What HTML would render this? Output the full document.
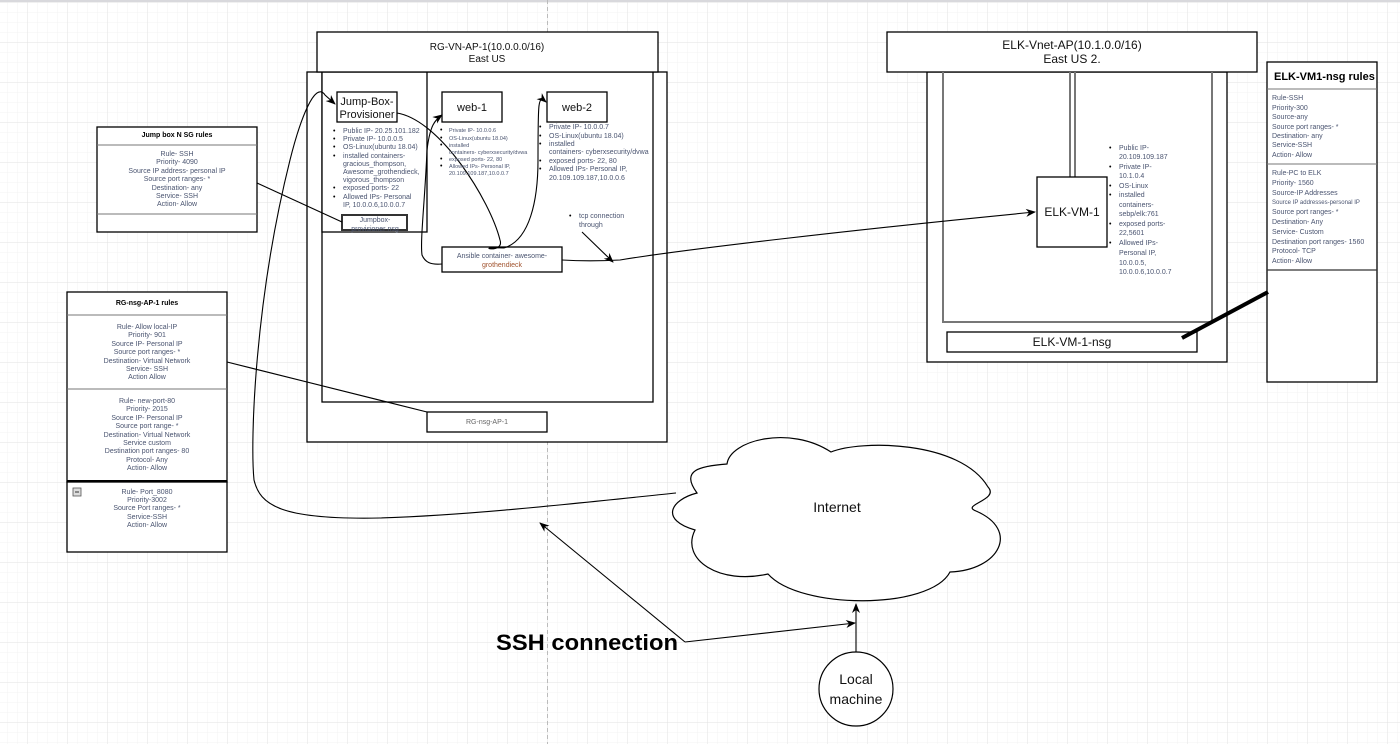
<!DOCTYPE html>
<html><head><meta charset="utf-8"><style>
html,body{margin:0;padding:0;background:#fff}
svg{display:block}
text{font-family:"Liberation Sans",Arial,sans-serif}
</style></head><body>
<svg width="1400" height="744" viewBox="0 0 1400 744" xmlns="http://www.w3.org/2000/svg">
<defs>
<pattern id="minor" x="7" y="2" width="10" height="10" patternUnits="userSpaceOnUse"><path d="M0 0H10M0 0V10" stroke="#f3f3f3" stroke-width="1" fill="none"/></pattern>
<pattern id="major" x="27" y="2" width="40" height="40" patternUnits="userSpaceOnUse"><path d="M0 0H40M0 0V40" stroke="#e2e2e2" stroke-width="1" fill="none"/></pattern>
<marker id="ar" markerWidth="10" markerHeight="10" refX="9" refY="5" orient="auto" markerUnits="userSpaceOnUse"><path d="M0 1L10 5L0 9L3 5Z" fill="#000"/></marker>
</defs>
<rect width="1400" height="744" fill="#fff"/>
<rect width="1400" height="744" fill="url(#minor)"/>
<rect width="1400" height="744" fill="url(#major)"/>
<rect width="1400" height="2" fill="#d8d8dc"/>
<line x1="547.5" y1="0" x2="547.5" y2="744" stroke="#bbb" stroke-dasharray="4 3"/>

<g fill="#fff" stroke="#000" stroke-width="1.3">
<rect x="307" y="72" width="360" height="370"/>
<rect x="322" y="72" width="331" height="330"/>
<rect x="322" y="72" width="105" height="160"/>
<rect x="317" y="32" width="341" height="40"/>
<rect x="337" y="92" width="60" height="30"/>
<rect x="442" y="92" width="60" height="30"/>
<rect x="547" y="92" width="60" height="30"/>
<rect x="442" y="247" width="120" height="25"/>
<rect x="427" y="412" width="120" height="20"/>
<rect x="97" y="127" width="160" height="105"/>
<rect x="67" y="292" width="160" height="190"/>
<rect x="67" y="482" width="160" height="70"/>
<rect x="927" y="72" width="300" height="290"/>
<rect x="887" y="32" width="370" height="40"/>
<rect x="947" y="332" width="250" height="20"/>
<rect x="1267" y="62" width="110" height="320"/>
</g>
<rect x="342" y="215" width="65" height="15" fill="#fff" stroke="#333" stroke-width="2"/>
<g stroke="#777" stroke-width="1"><line x1="97" y1="145" x2="257" y2="145"/><line x1="97" y1="214" x2="257" y2="214"/>
<line x1="67" y1="315" x2="227" y2="315"/><line x1="67" y1="389" x2="227" y2="389"/>
<line x1="1267" y1="89" x2="1377" y2="89"/><line x1="1267" y1="164" x2="1377" y2="164"/></g>
<line x1="67" y1="481" x2="227" y2="481" stroke="#000" stroke-width="2"/>
<line x1="1267" y1="270" x2="1377" y2="270" stroke="#333" stroke-width="1.3"/>
<path d="M943 72V322H1212V72M1070 72V177M1075 72V177" fill="none" stroke="#777" stroke-width="2"/>
<rect x="1037" y="177" width="70" height="70" fill="#fff" stroke="#000" stroke-width="1.3"/>
<rect x="73" y="488" width="8" height="8" fill="#ddd" stroke="#555" stroke-width="0.8"/><line x1="75" y1="492" x2="79" y2="492" stroke="#333"/>

<path d="M727 464C730 440 790 425 831 452C860 440 960 440 988 487C1000 500 960 505 976 511C1020 530 1000 570 950 572C930 610 800 610 768 574C720 585 680 560 695 530C660 520 670 500 697 493C680 470 700 466 727 464Z" fill="#fff" stroke="#000" stroke-width="1.2"/>
<circle cx="856" cy="689" r="37" fill="#fff" stroke="#000" stroke-width="1.2"/>

<g fill="none" stroke="#000" stroke-width="1.1">
<path d="M676 493C560 505 470 515 380 518C280 520 260 505 254 480C250 440 255 300 290 160C300 120 315 80 325 95L335 104" marker-end="url(#ar)"/>
<path d="M397 113C440 120 490 200 500 240C505 255 470 246 504 248" />
<path d="M442 264C430 265 425 262 422 255C420 240 425 200 427 150C430 125 435 120 442 115" marker-end="url(#ar)"/>
<path d="M504 248C530 240 538 200 538 160C538 100 538 95 546 102" marker-end="url(#ar)"/>
<path d="M562 260C580 261 600 261 620 260C680 250 850 230 1035 212" marker-end="url(#ar)"/>
<path d="M257 183L342 222"/>
<path d="M227 362L427 412"/>
<path d="M582 232L613 262" marker-end="url(#ar)"/>
<path d="M685 642L540 523" marker-end="url(#ar)"/>
<path d="M685 642L855 623" marker-end="url(#ar)"/>
<path d="M856 652V604" marker-end="url(#ar)"/>
</g>
<line x1="1182" y1="338" x2="1268" y2="292" stroke="#000" stroke-width="4"/>

<g font-size="10" text-anchor="middle" fill="#111">
<text x="487" y="50">RG-VN-AP-1(10.0.0.0/16)</text><text x="487" y="62">East US</text>
<text x="1072" y="49" font-size="12">ELK-Vnet-AP(10.1.0.0/16)</text><text x="1072" y="63" font-size="12">East US 2.</text>
<text x="367" y="105" font-size="11">Jump-Box-</text><text x="367" y="118" font-size="11">Provisioner</text>
<text x="472" y="111" font-size="11">web-1</text><text x="577" y="111" font-size="11">web-2</text>
<text x="1072" y="216" font-size="12">ELK-VM-1</text>
<text x="1072" y="346" font-size="12">ELK-VM-1-nsg</text>
<text x="837" y="512" font-size="14">Internet</text>
<text x="856" y="684" font-size="14">Local</text><text x="856" y="704" font-size="14">machine</text>
</g>
<text x="496" y="650" font-size="22" font-weight="bold" fill="#000" textLength="182" lengthAdjust="spacingAndGlyphs">SSH connection</text>
<g font-size="7" text-anchor="middle" fill="#4a5470">
<text x="375" y="222">Jumpbox-</text><text x="375" y="231">provisioner nsg</text>
<text x="502" y="258">Ansible container- awesome-</text><text x="502" y="267" fill="#a0522d">grothendieck</text>
<text x="487" y="424" fill="#666">RG-nsg-AP-1</text>
<text x="177" y="137" font-weight="bold" fill="#000">Jump box N SG rules</text>
<g><text x="177" y="156">Rule- SSH</text><text x="177" y="164">Priority- 4090</text><text x="177" y="173">Source IP address- personal IP</text><text x="177" y="181">Source port ranges- *</text><text x="177" y="190">Destination- any</text><text x="177" y="198">Service- SSH</text><text x="177" y="206">Action- Allow</text></g>
<text x="147" y="305" font-weight="bold" fill="#000">RG-nsg-AP-1 rules</text>
<g><text x="147" y="329">Rule- Allow local-IP</text><text x="147" y="337">Priority- 901</text><text x="147" y="346">Source IP- Personal IP</text><text x="147" y="354">Source port ranges- *</text><text x="147" y="363">Destination- Virtual Network</text><text x="147" y="371">Service- SSH</text><text x="147" y="379">Action Allow</text>
<text x="147" y="403">Rule- new-port-80</text><text x="147" y="411">Priority- 2015</text><text x="147" y="420">Source IP- Personal IP</text><text x="147" y="428">Source port range- *</text><text x="147" y="437">Destination- Virtual Network</text><text x="147" y="445">Service custom</text><text x="147" y="453">Destination port ranges- 80</text><text x="147" y="462">Protocol- Any</text><text x="147" y="470">Action- Allow</text>
<text x="147" y="494">Rule- Port_8080</text><text x="147" y="502">Priority-3002</text><text x="147" y="510">Source Port ranges- *</text><text x="147" y="519">Service-SSH</text><text x="147" y="527">Action- Allow</text></g>
</g>
<g font-size="7" fill="#4a5470">
<g><text x="343" y="133">Public IP- 20.25.101.182</text><text x="343" y="141">Private IP- 10.0.0.5</text><text x="343" y="149">OS-Linux(ubuntu 18.04)</text><text x="343" y="158">installed containers-</text><text x="343" y="166">gracious_thompson,</text><text x="343" y="174">Awesome_grothendieck,</text><text x="343" y="182">vigorous_thompson</text><text x="343" y="190">exposed ports- 22</text><text x="343" y="199">Allowed IPs- Personal</text><text x="343" y="207">IP, 10.0.0.6,10.0.0.7</text></g>
<g fill="#000"><text x="333" y="133">•</text><text x="333" y="141">•</text><text x="333" y="149">•</text><text x="333" y="158">•</text><text x="333" y="190">•</text><text x="333" y="199">•</text>
<text x="440" y="132">•</text><text x="440" y="140">•</text><text x="440" y="147">•</text><text x="440" y="161">•</text><text x="440" y="168">•</text>
<text x="539" y="129">•</text><text x="539" y="138">•</text><text x="539" y="146">•</text><text x="539" y="163">•</text><text x="539" y="171">•</text>
<text x="569" y="218">•</text>
<text x="1109" y="150">•</text><text x="1109" y="169">•</text><text x="1109" y="188">•</text><text x="1109" y="197">•</text><text x="1109" y="226">•</text><text x="1109" y="245">•</text></g>
<g font-size="5.5"><text x="449" y="132">Private IP- 10.0.0.6</text><text x="449" y="140">OS-Linux(ubuntu 18.04)</text><text x="449" y="147">installed</text><text x="449" y="154">containers- cyberxsecurity/dvwa</text><text x="449" y="161">exposed ports- 22, 80</text><text x="449" y="168">Allowed IPs- Personal IP,</text><text x="449" y="175">20.109.109.187,10.0.0.7</text></g>
<g><text x="549" y="129">Private IP- 10.0.0.7</text><text x="549" y="138">OS-Linux(ubuntu 18.04)</text><text x="549" y="146">installed</text><text x="549" y="154">containers- cyberxsecurity/dvwa</text><text x="549" y="163">exposed ports- 22, 80</text><text x="549" y="171">Allowed IPs- Personal IP,</text><text x="549" y="180">20.109.109.187,10.0.0.6</text></g>
<text x="579" y="218">tcp connection</text><text x="579" y="227">through</text>
<g><text x="1119" y="150">Public IP-</text><text x="1119" y="159">20.109.109.187</text><text x="1119" y="169">Private IP-</text><text x="1119" y="178">10.1.0.4</text><text x="1119" y="188">OS-Linux</text><text x="1119" y="197">installed</text><text x="1119" y="207">containers-</text><text x="1119" y="216">sebp/elk:761</text><text x="1119" y="226">exposed ports-</text><text x="1119" y="235">22,5601</text><text x="1119" y="245">Allowed IPs-</text><text x="1119" y="255">Personal IP,</text><text x="1119" y="265">10.0.0.5,</text><text x="1119" y="274">10.0.0.6,10.0.0.7</text></g>
<g><text x="1272" y="100">Rule-SSH</text><text x="1272" y="110">Priority-300</text><text x="1272" y="119">Source-any</text><text x="1272" y="129">Source port ranges- *</text><text x="1272" y="138">Destination- any</text><text x="1272" y="147">Service-SSH</text><text x="1272" y="157">Action- Allow</text>
<text x="1272" y="175">Rule-PC to ELK</text><text x="1272" y="185">Priority- 1560</text><text x="1272" y="195">Source-IP Addresses</text><text x="1272" y="204" font-size="6">Source IP addresses-personal IP</text><text x="1272" y="214">Source port ranges- *</text><text x="1272" y="224">Destination- Any</text><text x="1272" y="234">Service- Custom</text><text x="1272" y="244">Destination port ranges- 1560</text><text x="1272" y="253">Protocol- TCP</text><text x="1272" y="263">Action- Allow</text></g>
</g>
<text x="1274" y="80" font-size="11" font-weight="bold" fill="#000">ELK-VM1-nsg rules</text>
</svg>
</body></html>
